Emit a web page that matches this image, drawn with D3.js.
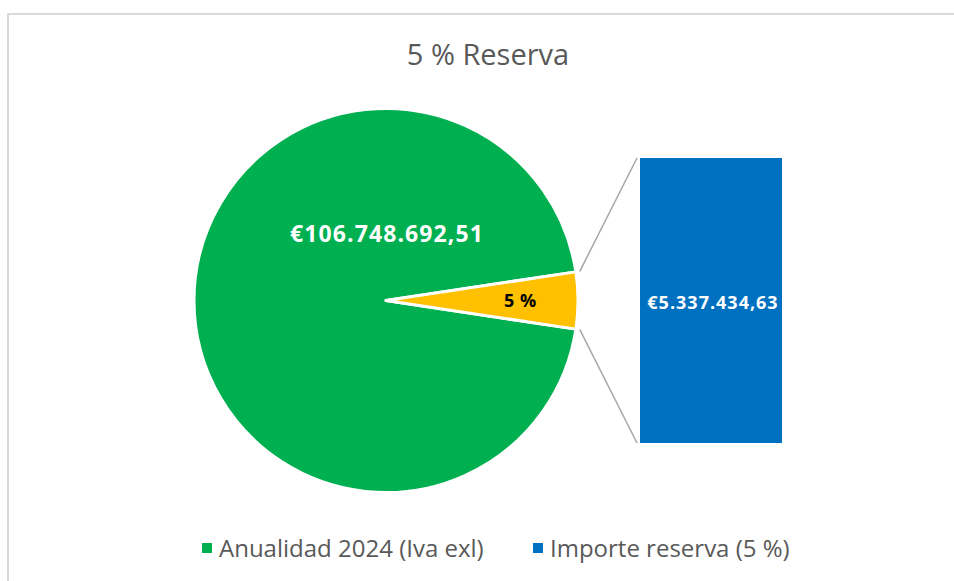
<!DOCTYPE html>
<html>
<head>
<meta charset="utf-8">
<script src="https://cdn.jsdelivr.net/npm/d3@7"></script>
<style>
    html, body { margin: 0; padding: 0; background: #fff; }
    svg { display: block; font-family: "Open Sans", sans-serif; }
</style>
</head>
<body>
<svg class="chart" width="954" height="581"></svg>
<script>
'use strict';

// chart data
var PIE_CATEGORIES = ["Anualidad 2024 (Iva exl)", "Otro"];
var BAR_CATEGORIES = ["Importe reserva (5 %)"];
var PIE_VALUES = [106748692.51];
var BAR_VALUES = [5337434.63];
var PIE_LABELS = ["€106.748.692,51", "5 %"];
var BAR_LABELS = ["€5.337.434,63"];
var TITLE = "5 % Reserva";

var COLORS = { pie: ["#00B050", "#FFC000"], bar: ["#0070C0"] };
var PIE_CENTER = { x: 386, y: 300.5 };
var PIE_RADIUS = 192;
var BAR_BOX = { x: 640, top: 158, bottom: 443, width: 142 };

var svg = d3.select(".chart");

// frame of the chart area
svg.append("rect")
    .attr("x", 8).attr("y", 14)
    .attr("width", 960).attr("height", 600)
    .attr("fill", "none")
    .attr("stroke", "#d9d9d9")
    .attr("stroke-width", 2);

// title
svg.append("text")
    .attr("x", 488).attr("y", 65)
    .attr("text-anchor", "middle")
    .attr("font-size", 29)
    .attr("fill", "#595959")
    .text(TITLE);

// the pie gets the bar total as its second slice
var barTotal = d3.sum(BAR_VALUES);
var pieData = PIE_VALUES.concat([barTotal]);
var total = d3.sum(pieData);
var otherAngle = 2 * Math.PI * barTotal / total;

var pie = d3.pie()
    .sort(null)
    .value(function (d) { return d; })
    .startAngle(Math.PI / 2 + otherAngle / 2)
    .endAngle(Math.PI / 2 + otherAngle / 2 + 2 * Math.PI);

var arc = d3.arc().innerRadius(0).outerRadius(PIE_RADIUS);
var arcs = pie(pieData);

var pieGroup = svg.append("g")
    .attr("transform", "translate(" + PIE_CENTER.x + "," + PIE_CENTER.y + ")");

pieGroup.selectAll("path")
    .data(arcs)
    .enter()
    .append("path")
    .attr("d", arc)
    .attr("fill", function (d, i) { return COLORS.pie[i]; })
    .attr("stroke", "#fff")
    .attr("stroke-width", 3)
    .attr("stroke-linejoin", "round");

// pie labels
pieGroup.append("text")
    .attr("x", 1).attr("y", -58.5)
    .attr("text-anchor", "middle")
    .attr("font-size", 23)
    .attr("font-weight", "bold")
    .attr("letter-spacing", 1.1)
    .attr("fill", "#fff")
    .text(PIE_LABELS[0]);

var labelArc = d3.arc().innerRadius(PIE_RADIUS * 0.7).outerRadius(PIE_RADIUS * 0.7);
var otherCentroid = labelArc.centroid(arcs[1]);
pieGroup.append("text")
    .attr("x", otherCentroid[0]).attr("y", otherCentroid[1] + 6.5)
    .attr("text-anchor", "middle")
    .attr("font-size", 18)
    .attr("font-weight", "bold")
    .attr("letter-spacing", 0.5)
    .attr("fill", "#000")
    .text(PIE_LABELS[1]);

// bar of the "other" slice
var yScale = d3.scaleLinear()
    .domain([0, barTotal])
    .range([BAR_BOX.bottom, BAR_BOX.top]);

var stacked = [];
var acc = 0;
BAR_VALUES.forEach(function (v) {
    stacked.push({ y0: acc, y1: acc + v });
    acc += v;
});

svg.selectAll("rect.bar")
    .data(stacked)
    .enter()
    .append("rect")
    .attr("class", "bar")
    .attr("x", BAR_BOX.x)
    .attr("width", BAR_BOX.width)
    .attr("y", function (d) { return yScale(d.y1); })
    .attr("height", function (d) { return yScale(d.y0) - yScale(d.y1); })
    .attr("fill", function (d, i) { return COLORS.bar[i]; });

svg.selectAll("text.barlabel")
    .data(stacked)
    .enter()
    .append("text")
    .attr("class", "barlabel")
    .attr("x", BAR_BOX.x + BAR_BOX.width / 2 + 2)
    .attr("y", function (d) { return (yScale(d.y0) + yScale(d.y1)) / 2 + 8.5; })
    .attr("text-anchor", "middle")
    .attr("font-size", 18)
    .attr("font-weight", "bold")
    .attr("letter-spacing", 1)
    .attr("fill", "#fff")
    .text(function (d, i) { return BAR_LABELS[i]; });

// connector lines from the slice edge to the bar corners
function edgePoint(angle) {
    return [PIE_CENTER.x + (PIE_RADIUS + 4) * Math.sin(angle),
            PIE_CENTER.y - (PIE_RADIUS + 4) * Math.cos(angle)];
}
var topPt = edgePoint(arcs[1].startAngle - 2 * Math.PI);
var botPt = edgePoint(arcs[1].endAngle - 2 * Math.PI);
var connectors = [
    [topPt, [BAR_BOX.x - 3, yScale(barTotal)]],
    [botPt, [BAR_BOX.x - 3, yScale(0)]]
];
svg.selectAll("line.connector")
    .data(connectors)
    .enter()
    .append("line")
    .attr("class", "connector")
    .attr("x1", function (d) { return d[0][0]; })
    .attr("y1", function (d) { return d[0][1]; })
    .attr("x2", function (d) { return d[1][0]; })
    .attr("y2", function (d) { return d[1][1]; })
    .attr("stroke", "#a6a6a6")
    .attr("stroke-width", 1.5);

// legend
var legendItems = [
    { name: PIE_CATEGORIES[0], color: COLORS.pie[0], x: 202 },
    { name: BAR_CATEGORIES[0], color: COLORS.bar[0], x: 533 }
];
var legend = svg.selectAll("g.legend")
    .data(legendItems)
    .enter()
    .append("g")
    .attr("class", "legend")
    .attr("transform", function (d) { return "translate(" + d.x + ",548)"; });

legend.append("rect")
    .attr("x", 0).attr("y", -5)
    .attr("width", 10).attr("height", 10)
    .attr("fill", function (d) { return d.color; });

legend.append("text")
    .attr("x", 17).attr("y", 0)
    .attr("dy", "0.36em")
    .attr("font-size", 24)
    .attr("fill", "#595959")
    .text(function (d) { return d.name; });
</script>
</body>
</html>
